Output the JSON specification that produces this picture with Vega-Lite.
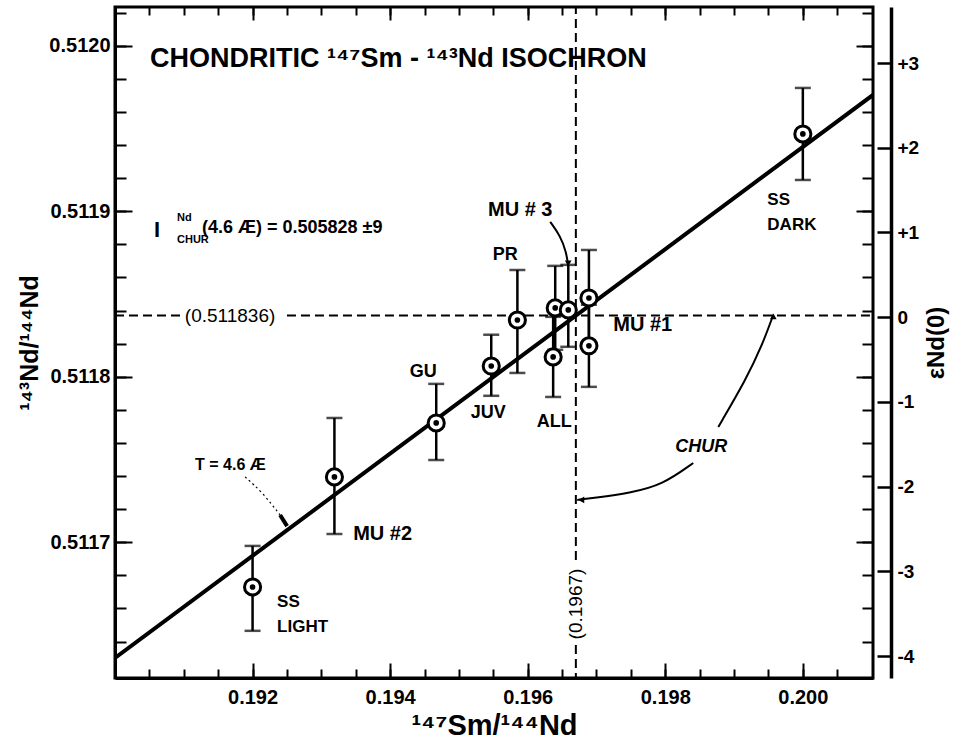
{
  "$schema": "https://vega.github.io/schema/vega-lite/v6.json",
  "width": 758,
  "height": 671,
  "autosize": {"type": "none"},
  "padding": {"left": 115, "top": 7, "right": 92, "bottom": 70},
  "background": "white",
  "config": {
    "view": {"stroke": "black", "strokeWidth": 3},
    "font": "'Liberation Sans', Arial, sans-serif",
    "axis": {
      "grid": false,
      "labelFont": "'Liberation Sans', Arial, sans-serif",
      "labelFontSize": 19,
      "labelFontWeight": "bold",
      "labelColor": "black",
      "tickColor": "black",
      "tickWidth": 2,
      "domainColor": "black",
      "domainWidth": 3,
      "titleFont": "'Liberation Sans', Arial, sans-serif",
      "titleFontWeight": "bold",
      "titleColor": "black"
    }
  },
  "datasets": {
    "iso": [
      {"x": 0.190, "y": 0.5116301},
      {"x": 0.20102, "y": 0.5119703}
    ],
    "hdash": [
      {"x": 0.190, "x2": 0.19095, "y": 0.511837},
      {"x": 0.19250, "x2": 0.2010, "y": 0.511837}
    ],
    "vdash": [
      {"x": 0.1967, "y": 0.5116379, "y2": 0.511618},
      {"x": 0.1967, "y": 0.5116893, "y2": 0.5120234}
    ],
    "pts": [
      {"name": "SS LIGHT", "x": 0.1920, "y": 0.511673, "lo": 0.5116465, "hi": 0.5116978},
      {"name": "MU #2", "x": 0.19319, "y": 0.5117395, "lo": 0.511705, "hi": 0.5117751},
      {"name": "GU", "x": 0.19467, "y": 0.5117721, "lo": 0.5117497, "hi": 0.5117957},
      {"name": "JUV", "x": 0.19547, "y": 0.5118065, "lo": 0.5117885, "hi": 0.5118254},
      {"name": "PR", "x": 0.19585, "y": 0.5118343, "lo": 0.5118023, "hi": 0.5118645},
      {"name": "ALL a", "x": 0.19640, "y": 0.5118416, "lo": 0.5118163, "hi": 0.511867},
      {"name": "ALL b", "x": 0.19637, "y": 0.511812, "lo": 0.5117878, "hi": 0.5118362},
      {"name": "MU #3", "x": 0.19659, "y": 0.5118404, "lo": 0.5118181, "hi": 0.5118676},
      {"name": "MU #1 a", "x": 0.19689, "y": 0.5118476, "lo": 0.5118187, "hi": 0.5118766},
      {"name": "MU #1 b", "x": 0.19689, "y": 0.5118187, "lo": 0.5117939, "hi": 0.5118435},
      {"name": "SS DARK", "x": 0.2000, "y": 0.5119467, "lo": 0.5119189, "hi": 0.5119745}
    ],
    "arrows": [
      {"id": "a", "i": 0, "x": 0.198771, "y": 0.5117697},
      {"id": "a", "i": 1, "x": 0.199178, "y": 0.5117987},
      {"id": "a", "i": 2, "x": 0.199411, "y": 0.5118193},
      {"id": "a", "i": 3, "x": 0.199571, "y": 0.5118375},
      {"id": "b", "i": 0, "x": 0.198407, "y": 0.5117479},
      {"id": "b", "i": 1, "x": 0.197956, "y": 0.5117346},
      {"id": "b", "i": 2, "x": 0.197491, "y": 0.5117298},
      {"id": "b", "i": 3, "x": 0.196953, "y": 0.5117268},
      {"id": "b", "i": 4, "x": 0.19672, "y": 0.5117256},
      {"id": "c", "i": 0, "x": 0.196327, "y": 0.5118936},
      {"id": "c", "i": 1, "x": 0.196473, "y": 0.5118852},
      {"id": "c", "i": 2, "x": 0.19656, "y": 0.5118755},
      {"id": "c", "i": 3, "x": 0.196589, "y": 0.511867}
    ],
    "heads": [
      {"dir": "up", "x": 0.199571, "y": 0.5118365},
      {"dir": "left", "x": 0.19678, "y": 0.5117256},
      {"dir": "down", "x": 0.196589, "y": 0.5118685}
    ],
    "leader": [
      {"i": 0, "x": 0.191891, "y": 0.5117395},
      {"i": 1, "x": 0.192138, "y": 0.5117304},
      {"i": 2, "x": 0.1924, "y": 0.5117165}
    ],
    "leadtip": [
      {"i": 0, "x": 0.1924, "y": 0.5117165},
      {"i": 1, "x": 0.192502, "y": 0.5117098}
    ],
    "centerLabels": [
      {"text": "PR", "x": 0.195673, "y": 0.5118736},
      {"text": "GU", "x": 0.19448, "y": 0.5118029},
      {"text": "JUV", "x": 0.195425, "y": 0.5117781},
      {"text": "ALL", "x": 0.196385, "y": 0.5117727}
    ],
    "muCenter": [
      {"text": "MU # 3", "x": 0.195891, "y": 0.5119008}
    ],
    "muLeft": [
      {"text": "MU #1", "x": 0.197244, "y": 0.5118313},
      {"text": "MU #2", "x": 0.193462, "y": 0.511705}
    ],
    "ssLabels": [
      {"text": "SS", "x": 0.192356, "y": 0.5116639},
      {"text": "LIGHT", "x": 0.192356, "y": 0.5116488},
      {"text": "SS", "x": 0.199484, "y": 0.5119068},
      {"text": "DARK", "x": 0.199484, "y": 0.5118918}
    ],
    "title": [
      {"text": "CHONDRITIC ¹⁴⁷Sm - ¹⁴³Nd  ISOCHRON", "x": 0.190509, "y": 0.511992}
    ],
    "notesT": [
      {"text": "T = 4.6 Æ", "x": 0.191164, "y": 0.5117467}
    ],
    "notes": [
      {"text": "(4.6 Æ) = 0.505828 ±9", "x": 0.191265, "y": 0.5118899}
    ],
    "bigI": [
      {"text": "I", "x": 0.190567, "y": 0.5118887}
    ],
    "tiny": [
      {"text": "Nd", "x": 0.190902, "y": 0.5118962},
      {"text": "CHUR", "x": 0.190902, "y": 0.5118825}
    ],
    "valLabels": [
      {"text": "(0.511836)", "x": 0.191673, "y": 0.511837}
    ],
    "vLabel": [
      {"text": "(0.1967)", "x": 0.1967, "y": 0.5116627}
    ],
    "churLabel": [
      {"text": "CHUR", "x": 0.198524, "y": 0.5117576}
    ]
  },
  "encoding": {
    "x": {"field": "x", "type": "quantitative", "scale": {"domain": [0.19, 0.20102], "nice": false, "zero": false}, "axis": null},
    "y": {"field": "y", "type": "quantitative", "scale": {"domain": [0.511618, 0.5120234], "nice": false, "zero": false}, "axis": null}
  },
  "layer": [
    {
      "data": {"name": "iso"},
      "mark": {"type": "line", "color": "black", "strokeWidth": 4, "clip": true},
      "encoding": {
        "x": {"field": "x", "type": "quantitative", "scale": {"domain": [0.19, 0.20102], "nice": false, "zero": false},
          "axis": {"orient": "bottom", "values": [0.192, 0.194, 0.196, 0.198, 0.2], "format": ".3f", "tickSize": -15, "labelPadding": 24, "labelFontSize": 20, "title": "¹⁴⁷Sm/¹⁴⁴Nd", "titleFontSize": 29, "titlePadding": 4}},
        "y": {"field": "y", "type": "quantitative", "scale": {"domain": [0.511618, 0.5120234], "nice": false, "zero": false},
          "axis": {"orient": "left", "values": [0.5117, 0.5118, 0.5119, 0.512], "format": ".4f", "tickSize": -17, "labelPadding": 22, "labelFontSize": 20, "title": "¹⁴³Nd/¹⁴⁴Nd", "titleFontSize": 25, "titlePadding": 6}}
      }
    },
    {
      "data": {"name": "hdash"},
      "mark": {"type": "rule", "color": "black", "strokeWidth": 2, "strokeDash": [9, 5]},
      "encoding": {
        "x": {"field": "x", "type": "quantitative", "scale": {"domain": [0.19, 0.20102], "nice": false, "zero": false},
          "axis": {"orient": "bottom", "values": [0.1905, 0.191, 0.1915, 0.192, 0.1925, 0.193, 0.1935, 0.194, 0.1945, 0.195, 0.1955, 0.196, 0.1965, 0.197, 0.1975, 0.198, 0.1985, 0.199, 0.1995, 0.2, 0.2005], "labels": false, "domain": false, "tickSize": -9, "title": null}},
        "x2": {"field": "x2"},
        "y": {"field": "y", "type": "quantitative", "scale": {"domain": [0.511618, 0.5120234], "nice": false, "zero": false},
          "axis": {"orient": "left", "values": [0.51164, 0.51166, 0.51168, 0.5117, 0.51172, 0.51174, 0.51176, 0.51178, 0.5118, 0.51182, 0.51184, 0.51186, 0.51188, 0.5119, 0.51192, 0.51194, 0.51196, 0.51198, 0.512, 0.51202], "labels": false, "domain": false, "tickSize": -11, "title": null}}
      }
    },
    {
      "data": {"name": "vdash"},
      "mark": {"type": "rule", "color": "black", "strokeWidth": 2, "strokeDash": [9, 5]},
      "encoding": {
        "x": {"field": "x", "type": "quantitative", "scale": {"domain": [0.19, 0.20102], "nice": false, "zero": false},
          "axis": {"orient": "top", "values": [0.1905, 0.191, 0.1915, 0.192, 0.1925, 0.193, 0.1935, 0.194, 0.1945, 0.195, 0.1955, 0.196, 0.1965, 0.197, 0.1975, 0.198, 0.1985, 0.199, 0.1995, 0.2, 0.2005], "labels": false, "domain": false, "tickSize": -8, "title": null}},
        "y": {"field": "y", "type": "quantitative", "scale": {"domain": [0.511618, 0.5120234], "nice": false, "zero": false},
          "axis": {"orient": "right", "values": [0.5117, 0.5118, 0.5119, 0.512], "labels": false, "domain": false, "tickSize": -17, "title": null}},
        "y2": {"field": "y2"}
      }
    },
    {
      "data": {"name": "pts"},
      "mark": {"type": "rule", "color": "black", "strokeWidth": 2.5},
      "encoding": {
        "y": {"field": "lo", "type": "quantitative", "scale": {"domain": [0.511618, 0.5120234], "nice": false, "zero": false},
          "axis": {"orient": "right", "values": [0.51164, 0.51166, 0.51168, 0.5117, 0.51172, 0.51174, 0.51176, 0.51178, 0.5118, 0.51182, 0.51184, 0.51186, 0.51188, 0.5119, 0.51192, 0.51194, 0.51196, 0.51198, 0.512, 0.51202], "labels": false, "domain": false, "tickSize": -11, "title": null}},
        "y2": {"field": "hi"}
      }
    },
    {
      "data": {"name": "pts"},
      "mark": {"type": "tick", "orient": "horizontal", "color": "black", "size": 16, "thickness": 2.5},
      "encoding": {
        "y": {"field": "lo", "type": "quantitative", "scale": {"domain": [0.511618, 0.5120234], "nice": false, "zero": false},
          "axis": {"orient": "right", "offset": 18, "values": [0.51163127, 0.51168245, 0.51173363, 0.51178482, 0.511836, 0.51188718, 0.51193837, 0.51198955],
            "labelExpr": "datum.value > 0.51184 ? '+' + round((datum.value / 0.511836 - 1) * 10000) : (datum.value < 0.51183 ? '-' + round((1 - datum.value / 0.511836) * 10000) : '0')",
            "tickSize": -14, "tickWidth": 2.5, "labelPadding": 20, "labelFontSize": 19, "domainWidth": 3.5,
            "title": "εNd(0)", "titleAngle": 270, "titleBaseline": "top", "titleFontSize": 24, "titlePadding": 6}}
      }
    },
    {
      "data": {"name": "pts"},
      "mark": {"type": "tick", "orient": "horizontal", "color": "black", "size": 16, "thickness": 2.5},
      "encoding": {
        "y": {"field": "hi", "type": "quantitative", "scale": {"domain": [0.511618, 0.5120234], "nice": false, "zero": false}, "axis": null}
      }
    },
    {
      "data": {"name": "pts"},
      "mark": {"type": "point", "shape": "circle", "filled": false, "fill": "white", "fillOpacity": 1, "stroke": "black", "strokeWidth": 3, "size": 260, "opacity": 1},
      "encoding": {
        "x": {"field": "x", "type": "quantitative", "scale": {"domain": [0.19, 0.20102], "nice": false, "zero": false},
          "axis": {"orient": "top", "values": [0.192, 0.194, 0.196, 0.198, 0.2], "labels": false, "domain": false, "tickSize": -13, "title": null}}
      }
    },
    {
      "data": {"name": "pts"},
      "mark": {"type": "point", "shape": "circle", "filled": true, "color": "black", "size": 32, "opacity": 1}
    },
    {
      "data": {"name": "arrows"},
      "mark": {"type": "line", "color": "black", "strokeWidth": 2, "interpolate": "basis"},
      "encoding": {
        "detail": {"field": "id"},
        "order": {"field": "i", "type": "quantitative"}
      }
    },
    {
      "data": {"name": "heads"},
      "mark": {"type": "point", "filled": true, "color": "black", "size": 45, "opacity": 1},
      "encoding": {
        "shape": {"field": "dir", "type": "nominal", "scale": {"domain": ["up", "down", "left"], "range": ["triangle-up", "triangle-down", "triangle-left"]}, "legend": null}
      }
    },
    {
      "data": {"name": "leader"},
      "mark": {"type": "line", "color": "black", "strokeWidth": 1.2, "strokeDash": [2, 3], "interpolate": "basis"},
      "encoding": {"order": {"field": "i", "type": "quantitative"}}
    },
    {
      "data": {"name": "leadtip"},
      "mark": {"type": "line", "color": "black", "strokeWidth": 4},
      "encoding": {"order": {"field": "i", "type": "quantitative"}}
    },
    {
      "data": {"name": "centerLabels"},
      "mark": {"type": "text", "align": "center", "baseline": "middle", "fontSize": 18, "fontWeight": "bold", "color": "black"},
      "encoding": {"text": {"field": "text"}}
    },
    {
      "data": {"name": "muCenter"},
      "mark": {"type": "text", "align": "center", "baseline": "middle", "fontSize": 20, "fontWeight": "bold", "color": "black"},
      "encoding": {"text": {"field": "text"}}
    },
    {
      "data": {"name": "muLeft"},
      "mark": {"type": "text", "align": "left", "baseline": "middle", "fontSize": 20, "fontWeight": "bold", "color": "black"},
      "encoding": {"text": {"field": "text"}}
    },
    {
      "data": {"name": "ssLabels"},
      "mark": {"type": "text", "align": "left", "baseline": "middle", "fontSize": 17, "fontWeight": "bold", "color": "black"},
      "encoding": {"text": {"field": "text"}}
    },
    {
      "data": {"name": "title"},
      "mark": {"type": "text", "align": "left", "baseline": "middle", "fontSize": 27, "fontWeight": "bold", "color": "black"},
      "encoding": {"text": {"field": "text"}}
    },
    {
      "data": {"name": "notesT"},
      "mark": {"type": "text", "align": "left", "baseline": "middle", "fontSize": 16, "fontWeight": "bold", "color": "black"},
      "encoding": {"text": {"field": "text"}}
    },
    {
      "data": {"name": "notes"},
      "mark": {"type": "text", "align": "left", "baseline": "middle", "fontSize": 18, "fontWeight": "bold", "color": "black"},
      "encoding": {"text": {"field": "text"}}
    },
    {
      "data": {"name": "bigI"},
      "mark": {"type": "text", "align": "left", "baseline": "middle", "fontSize": 22, "fontWeight": "bold", "color": "black"},
      "encoding": {"text": {"field": "text"}}
    },
    {
      "data": {"name": "tiny"},
      "mark": {"type": "text", "align": "left", "baseline": "middle", "fontSize": 11, "fontWeight": "bold", "color": "black"},
      "encoding": {"text": {"field": "text"}}
    },
    {
      "data": {"name": "valLabels"},
      "mark": {"type": "text", "align": "center", "baseline": "middle", "fontSize": 19, "color": "black"},
      "encoding": {"text": {"field": "text"}}
    },
    {
      "data": {"name": "vLabel"},
      "mark": {"type": "text", "align": "center", "baseline": "middle", "fontSize": 19, "angle": 270, "color": "black"},
      "encoding": {"text": {"field": "text"}}
    },
    {
      "data": {"name": "churLabel"},
      "mark": {"type": "text", "align": "center", "baseline": "middle", "fontSize": 18, "fontWeight": "bold", "fontStyle": "italic", "color": "black"},
      "encoding": {"text": {"field": "text"}}
    }
  ],
  "resolve": {"axis": {"x": "independent", "y": "independent"}}
}
